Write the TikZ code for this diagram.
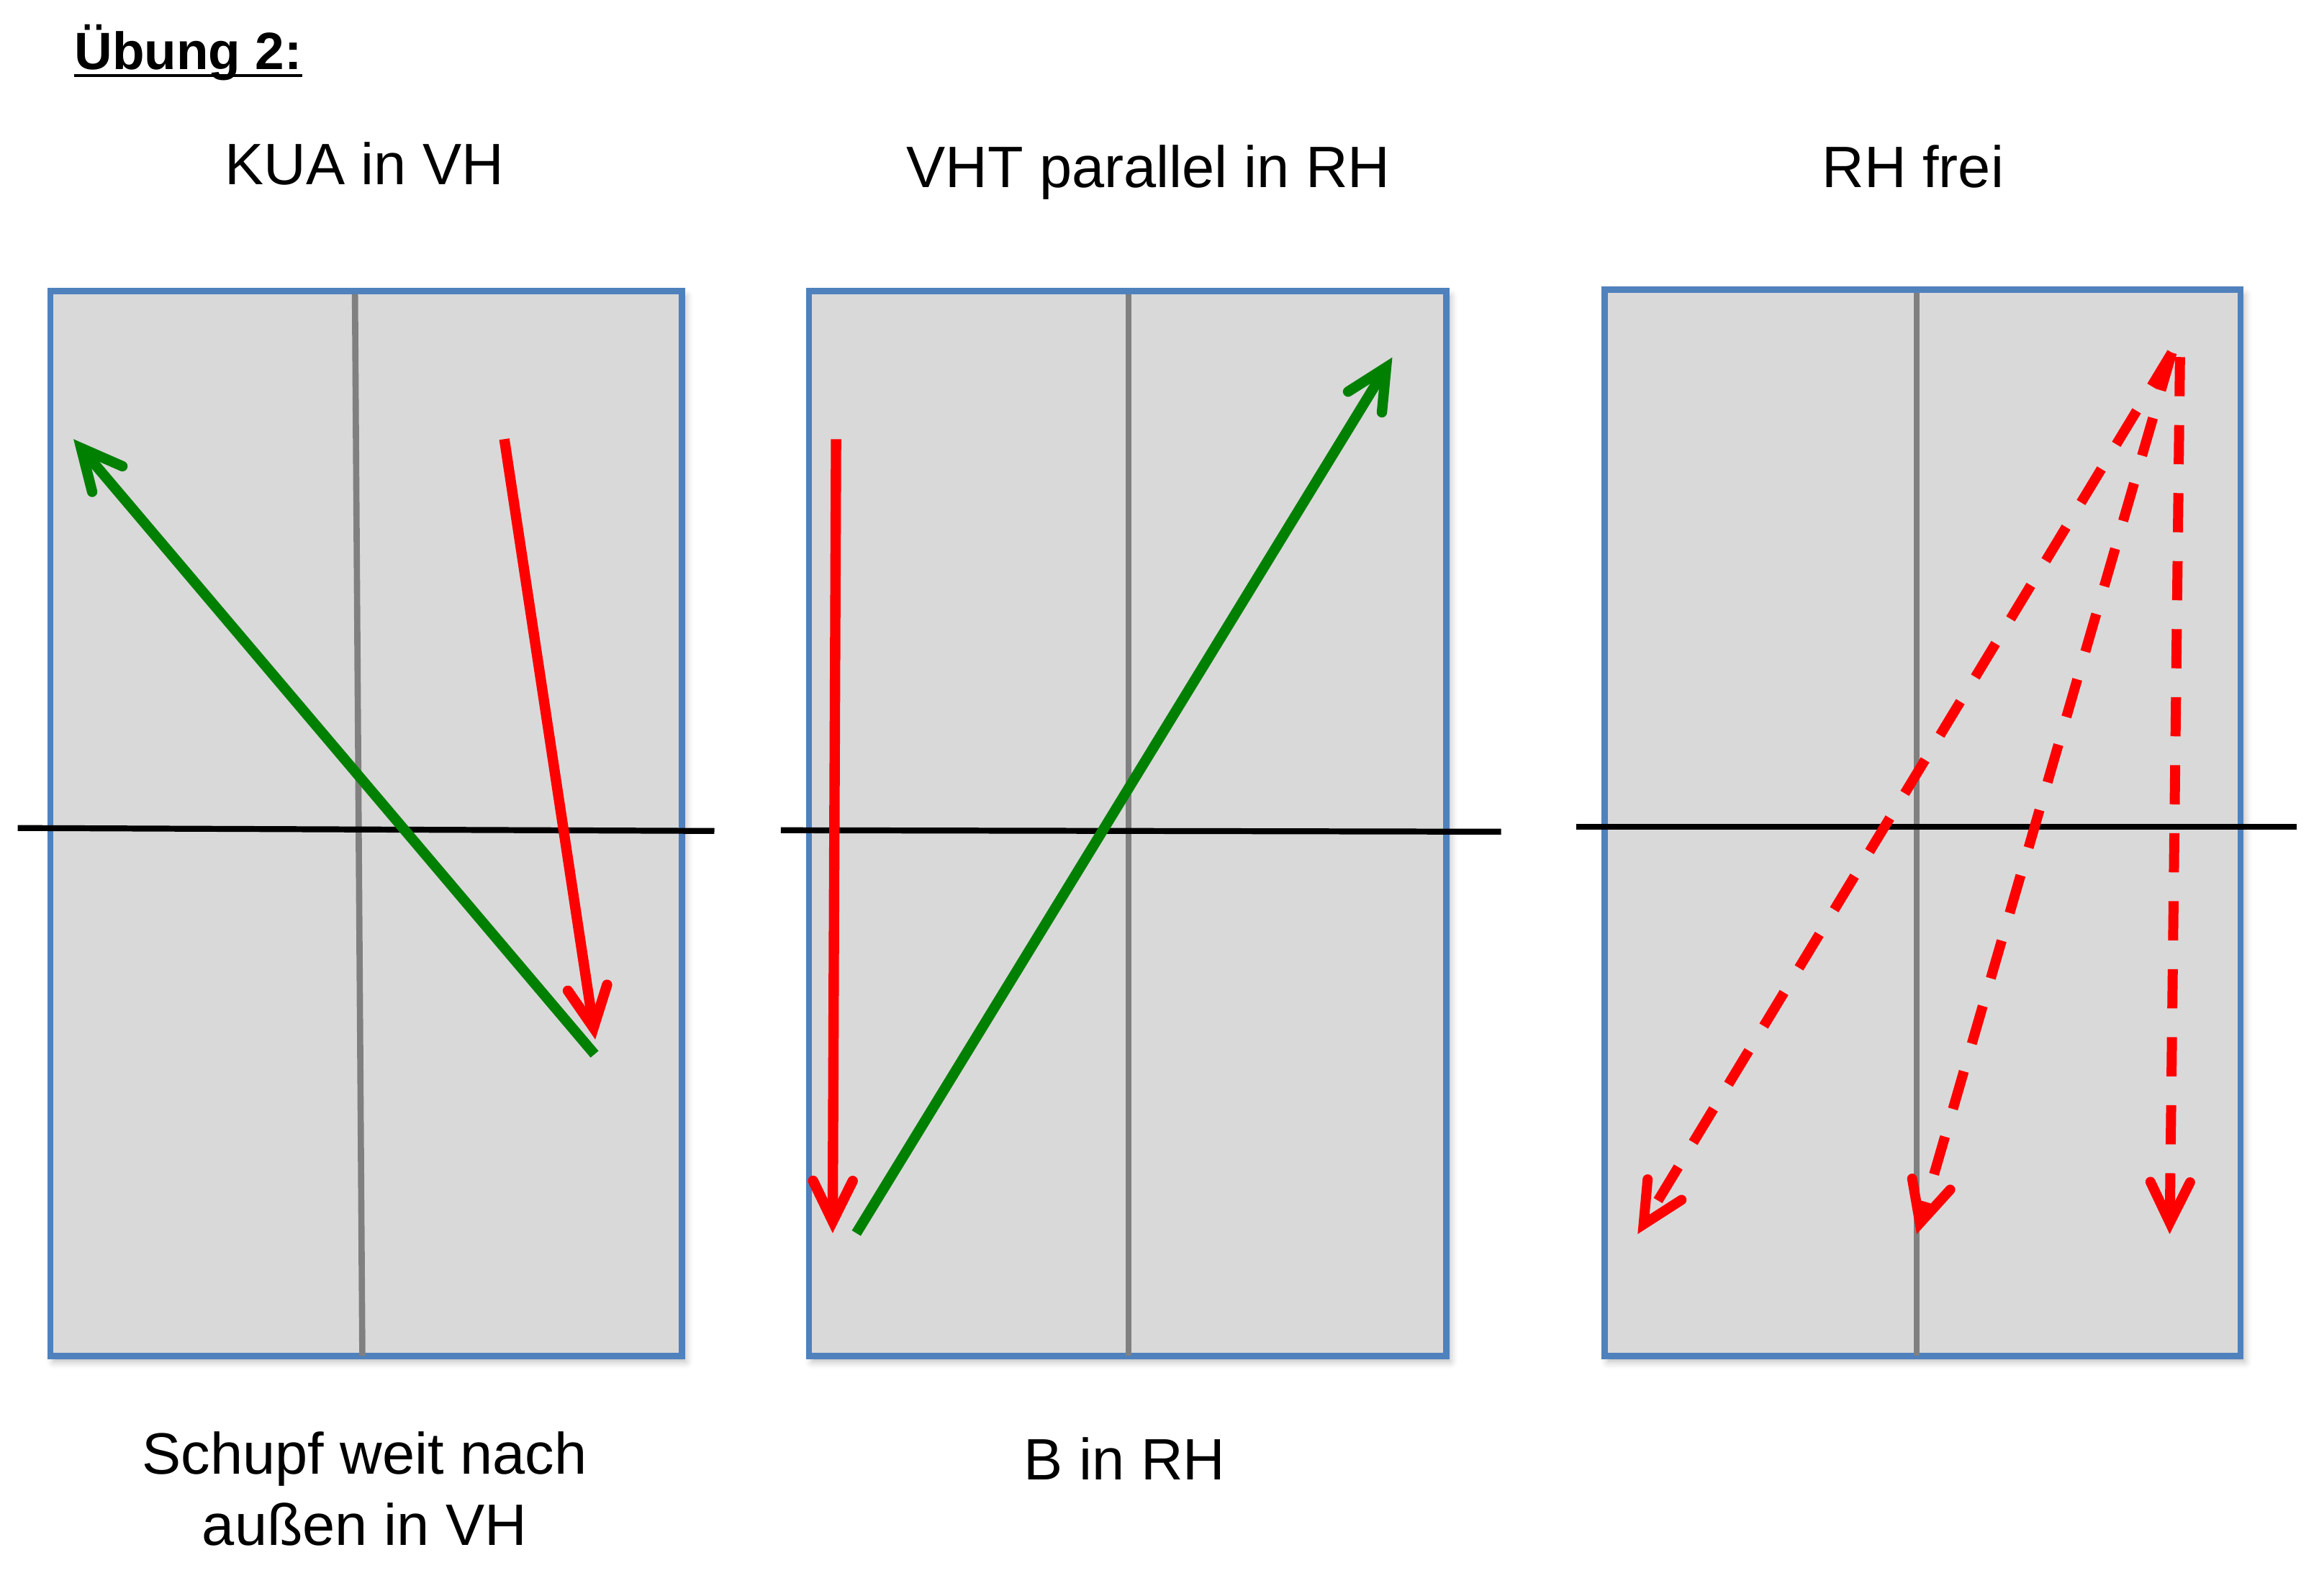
\documentclass[tikz,border=0pt]{standalone}
\usepackage{fontspec}
\setmainfont{Liberation Sans}
\usetikzlibrary{arrows.meta,shadows.blur}
\definecolor{pfill}{HTML}{D9D9D9}
\definecolor{pborder}{HTML}{4F81BD}
\definecolor{midgray}{HTML}{808080}
\definecolor{pgreen}{HTML}{008000}
\definecolor{pred}{HTML}{FF0000}
\begin{document}
\begin{tikzpicture}[x=0.5pt,y=-0.5pt,
  panel/.style={fill=pfill, draw=pborder, line width=2.1pt,
    blur shadow={shadow xshift=1.2pt, shadow yshift=-1.8pt, shadow blur radius=2.5pt, shadow opacity=30}},
  midline/.style={draw=midgray, line width=2.1pt},
  axisline/.style={draw=black, line width=2pt},
  barb/.style={-{Straight Barb[length=13.7pt,width=13.4pt,line cap=round,line join=miter]}},
  greenarrow/.style={draw=pgreen, line width=3.5pt, barb},
  redarrow/.style={draw=pred, line width=3.5pt, barb},
  reddash/.style={draw=pred, line width=3.4pt, dash pattern=on 13.25pt off 9.75pt, barb},
  lbl/.style={inner sep=0pt, font=\fontsize{19.75pt}{24pt}\selectfont, anchor=base},
]
\useasboundingbox (0,0) rectangle (1568,1079);

% title
\node[inner sep=0pt, anchor=base west, font=\fontsize{17.75pt}{21pt}\selectfont\bfseries] (title) at (50,47) {Übung 2:};
\draw[line width=1pt] ([yshift=-2.15pt]title.base west) -- ([yshift=-2.15pt]title.base east);

% headings
\node[lbl] (h1) at (246.5,125) {KUA in VH};
\node[lbl] (h2) at (776.5,127) {VHT parallel in RH};
\node[lbl] (h3) at (1293.5,127) {RH frei};

% bottom labels
\node[lbl] (b1a) at (246.5,997) {Schupf weit nach};
\node[lbl] (b1b) at (246.5,1045) {außen in VH};
\node[lbl] (b2) at (760.5,1001) {B in RH};

% ---------- panel 1
\draw[panel] (34,197) rectangle (461,917);
\draw[midline] (240,199) -- (245,917);
\draw[axisline] (12,560) -- (483,562);
\coordinate (g1s) at (402,713);
\coordinate (g1e) at (49.7,297);
\coordinate (r1s) at (341,297);
\coordinate (r1e) at (402.5,703);
\draw[greenarrow] (g1s) -- (g1e);
\draw[redarrow] (r1s) -- (r1e);

% ---------- panel 2
\draw[panel] (547,197) rectangle (978,917);
\draw[midline] (763,199) -- (763,917);
\draw[axisline] (528,561.5) -- (1015,562.5);
\coordinate (r2s) at (565.3,297);
\coordinate (r2e) at (563,834);
\coordinate (g2s) at (579,834);
\coordinate (g2e) at (941.4,241.7);
\draw[redarrow] (r2s) -- (r2e);
\draw[greenarrow] (g2s) -- (g2e);

% ---------- panel 3
\draw[panel] (1085,196) rectangle (1515,917);
\draw[midline] (1296,198) -- (1296,917);
\draw[axisline] (1066,559) -- (1553,559);
\coordinate (top3) at (1468.5,238.5);
\coordinate (top3c) at (1474,241.5);
\coordinate (tA) at (1107.3,834.6);
\coordinate (tB) at (1296,834.6);
\coordinate (tC) at (1467,834.6);
\draw[reddash] (top3) -- (tA);
\draw[reddash] (top3) -- (tB);
\draw[reddash] (top3c) -- (tC);
\end{tikzpicture}
\end{document}
